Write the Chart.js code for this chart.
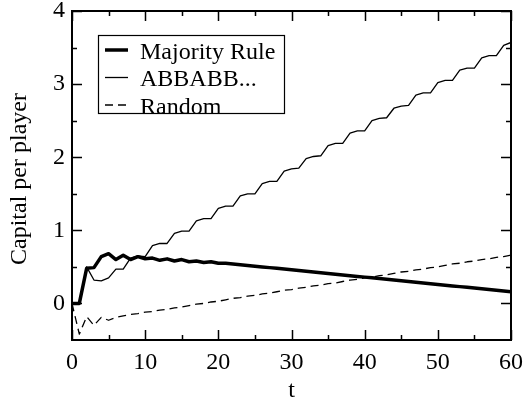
<!DOCTYPE html>
<html>
<head>
<meta charset="utf-8">
<script src="https://cdn.jsdelivr.net/npm/chart.js@4"></script>
<style>
  html, body { margin: 0; padding: 0; background: #fff; }
</style>
</head>
<body>
<canvas id="chart" width="524" height="399"></canvas>
<script>
// time steps
const t = [0, 1, 2, 3, 4, 5, 6, 7, 8, 9, 10, 11, 12, 13, 14, 15, 16, 17, 18, 19, 20,
  21, 22, 23, 24, 25, 26, 27, 28, 29, 30, 31, 32, 33, 34, 35, 36, 37, 38, 39, 40,
  41, 42, 43, 44, 45, 46, 47, 48, 49, 50, 51, 52, 53, 54, 55, 56, 57, 58, 59, 60];

const majority = [0, 0, 0.48, 0.49, 0.64, 0.68, 0.60, 0.66, 0.60, 0.64, 0.61,
  0.62, 0.59, 0.61, 0.58, 0.60, 0.57, 0.58, 0.56, 0.57, 0.55,
  0.55, 0.54, 0.53, 0.52, 0.51, 0.50, 0.49, 0.48, 0.47, 0.46,
  0.45, 0.44, 0.43, 0.42, 0.41, 0.40, 0.39, 0.38, 0.37, 0.36,
  0.35, 0.34, 0.33, 0.32, 0.31, 0.30, 0.29, 0.28, 0.27, 0.26,
  0.25, 0.24, 0.23, 0.22, 0.21, 0.20, 0.19, 0.18, 0.17, 0.16];

const abbabb = [0, 0, 0.50, 0.32, 0.31, 0.35, 0.47, 0.47, 0.62, 0.65, 0.64,
  0.79, 0.82, 0.82, 0.96, 0.99, 0.99, 1.13, 1.16, 1.16, 1.30,
  1.33, 1.33, 1.47, 1.50, 1.50, 1.64, 1.67, 1.67, 1.81, 1.84,
  1.85, 1.98, 2.01, 2.02, 2.16, 2.19, 2.19, 2.33, 2.36, 2.36,
  2.50, 2.53, 2.54, 2.67, 2.70, 2.71, 2.85, 2.88, 2.88, 3.02,
  3.05, 3.05, 3.19, 3.22, 3.22, 3.36, 3.39, 3.39, 3.53, 3.57];

const random = [0, -0.42, -0.18, -0.30, -0.19, -0.23, -0.19, -0.17, -0.15, -0.14, -0.12,
  -0.11, -0.09, -0.08, -0.06, -0.05, -0.03, -0.01, 0.00, 0.02, 0.03,
  0.05, 0.07, 0.08, 0.10, 0.11, 0.13, 0.14, 0.16, 0.18, 0.19,
  0.21, 0.22, 0.24, 0.25, 0.27, 0.28, 0.30, 0.32, 0.33, 0.35,
  0.36, 0.38, 0.39, 0.41, 0.43, 0.44, 0.46, 0.47, 0.49, 0.50,
  0.52, 0.54, 0.55, 0.57, 0.58, 0.60, 0.61, 0.63, 0.64, 0.66];

const seriesNames = ["Majority Rule", "ABBABB...", "Random"];

const xTicks = [0, 10, 20, 30, 40, 50, 60];
const xMinor = [5, 15, 25, 35, 45, 55];
const yTicks = [0, 1, 2, 3, 4];
const yMinor = [0.5, 1.5, 2.5, 3.5];

const serif = "'Liberation Serif', 'DejaVu Serif', serif";

function pts(ys) {
    return t.map((x, i) => ({ x: x, y: ys[i] }));
}

// keep tick labels from pushing the plot area around
function noPad(s) {
    s.paddingLeft = 0; s.paddingRight = 0;
    s.paddingTop = 0; s.paddingBottom = 0;
}

// inward ticks, frame, y title and boxed legend
const framePlugin = {
    id: "frame",
    afterDraw(chart) {
        const ctx = chart.ctx;
        const a = chart.chartArea;
        const xs = chart.scales.x;
        const ys = chart.scales.y;

        ctx.save();
        ctx.strokeStyle = "#000";
        ctx.lineWidth = 1.5;

        const tickX = (v, len) => {
            const px = Math.round(xs.getPixelForValue(v)) + 0.5;
            ctx.beginPath();
            ctx.moveTo(px, a.bottom); ctx.lineTo(px, a.bottom - len);
            ctx.moveTo(px, a.top); ctx.lineTo(px, a.top + len);
            ctx.stroke();
        };
        const tickY = (v, len) => {
            const py = Math.round(ys.getPixelForValue(v)) + 0.5;
            ctx.beginPath();
            ctx.moveTo(a.left, py); ctx.lineTo(a.left + len, py);
            ctx.moveTo(a.right, py); ctx.lineTo(a.right - len, py);
            ctx.stroke();
        };
        xTicks.forEach(v => tickX(v, 10));
        xMinor.forEach(v => tickX(v, 5));
        yTicks.forEach(v => tickY(v, 10));
        yMinor.forEach(v => tickY(v, 5));

        ctx.lineWidth = 2;
        ctx.strokeRect(a.left, a.top, a.right - a.left, a.bottom - a.top);

        // y axis title
        ctx.fillStyle = "#000";
        ctx.font = "24px " + serif;
        ctx.textAlign = "center";
        ctx.textBaseline = "middle";
        ctx.save();
        ctx.translate(20, 179);
        ctx.rotate(-Math.PI / 2);
        ctx.fillText("Capital per player", 0, 0);
        ctx.restore();

        // legend box
        ctx.lineWidth = 1.2;
        ctx.strokeRect(98.5, 35.5, 186, 78);
        ctx.textAlign = "left";
        ctx.textBaseline = "alphabetic";
        chart.data.datasets.forEach((ds, i) => {
            const y = 50 + i * 27.5;
            ctx.lineWidth = ds.borderWidth;
            ctx.setLineDash(ds.borderDash || []);
            ctx.beginPath();
            ctx.moveTo(105, y); ctx.lineTo(128, y);
            ctx.stroke();
            ctx.setLineDash([]);
            ctx.fillText(ds.label, 140, y + 8.5);
        });
        ctx.restore();
    }
};

new Chart(document.getElementById("chart"), {
    type: "line",
    data: {
        datasets: [
            { label: seriesNames[0], data: pts(majority), borderColor: "#000", borderWidth: 3.5 },
            { label: seriesNames[1], data: pts(abbabb), borderColor: "#000", borderWidth: 1.3 },
            { label: seriesNames[2], data: pts(random), borderColor: "#000", borderWidth: 1.3, borderDash: [8, 5] }
        ]
    },
    options: {
        responsive: false,
        animation: false,
        layout: { padding: { left: 0, top: 11, right: 13, bottom: 0 } },
        elements: {
            point: { radius: 0 },
            line: { tension: 0, fill: false, borderJoinStyle: "round" }
        },
        plugins: {
            legend: { display: false },
            tooltip: { enabled: false }
        },
        scales: {
            x: {
                type: "linear",
                min: 0,
                max: 60,
                afterBuildTicks: s => { s.ticks = xTicks.map(v => ({ value: v })); },
                afterFit: s => { s.height = 59; noPad(s); },
                grid: { display: false, drawTicks: false },
                border: { display: false },
                ticks: { color: "#000", padding: 8, maxRotation: 0, font: { family: serif, size: 24 } },
                title: { display: true, text: "t", color: "#000", padding: { top: 0, bottom: -6 }, font: { family: serif, size: 24 } }
            },
            y: {
                type: "linear",
                min: -0.5,
                max: 4,
                afterBuildTicks: s => { s.ticks = yTicks.map(v => ({ value: v })); },
                afterFit: s => { s.width = 72; noPad(s); },
                grid: { display: false, drawTicks: false },
                border: { display: false },
                ticks: { color: "#000", padding: 7, font: { family: serif, size: 24 } }
            }
        }
    },
    plugins: [framePlugin]
});
</script>
</body>
</html>
